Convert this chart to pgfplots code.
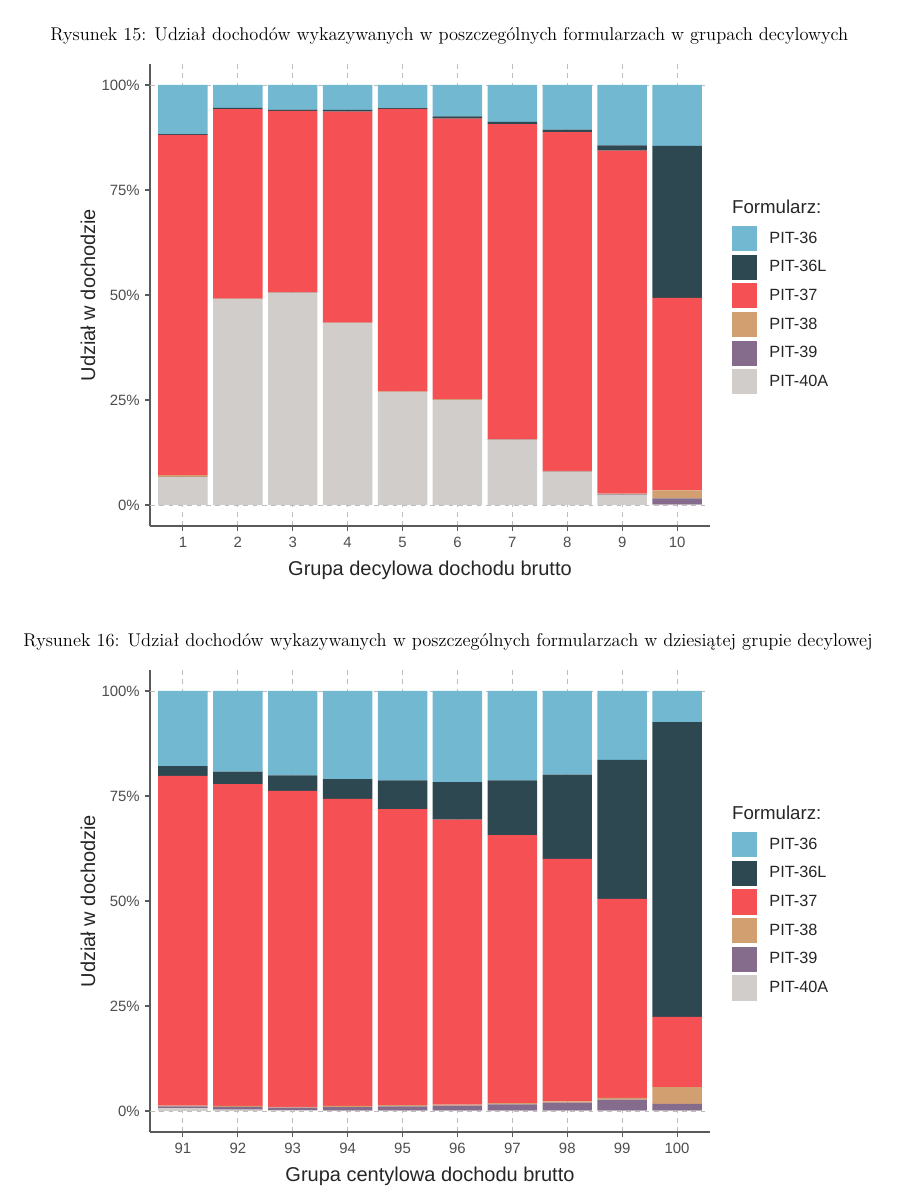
\documentclass[border=0pt]{standalone}
\usepackage{fontspec}
\newfontfamily\arial{Liberation Sans}
\usepackage{graphicx}
\usepackage{pgfplots}
\usepackage{pgfplotstable}
\pgfplotsset{compat=1.18}
\definecolor{cA}{HTML}{71B8D0}
\definecolor{cB}{HTML}{2E4852}
\definecolor{cC}{HTML}{F55155}
\definecolor{cD}{HTML}{D2A070}
\definecolor{cE}{HTML}{856B8C}
\definecolor{cF}{HTML}{D0CDCA}
\definecolor{tickgray}{HTML}{4D4D4D}
\definecolor{axgray}{HTML}{5A5A5A}
\definecolor{gridgray}{HTML}{BDBDBD}
\newlength\tw

\pgfplotstableread{
x a40 a39 a38 a37 a36L a36
1 6.6 0.1 0.4 81.0 0.2 11.7
2 49.0 0.05 0.1 45.1 0.3 5.45
3 50.5 0.05 0.1 43.2 0.3 5.85
4 43.3 0.05 0.1 50.2 0.4 5.95
5 26.9 0.05 0.1 67.25 0.2 5.5
6 25.0 0.05 0.15 66.8 0.5 7.5
7 15.5 0.05 0.15 75.0 0.5 8.8
8 7.9 0.05 0.15 80.7 0.6 10.6
9 2.4 0.1 0.2 81.7 1.2 14.4
10 0.1 1.5 1.9 45.8 36.2 14.5
}\tabA

\pgfplotstableread{
x a40 a39 a38 a37 a36L a36
1 0.6 0.5 0.2 78.5 2.3 17.9
2 0.3 0.7 0.2 76.6 3.0 19.2
3 0.2 0.6 0.2 75.2 3.7 20.1
4 0.1 0.8 0.3 73.1 4.7 21.0
5 0.1 1.0 0.3 70.5 6.8 21.3
6 0.1 1.2 0.2 67.9 8.9 21.7
7 0.1 1.5 0.3 63.8 13.0 21.3
8 0.1 1.9 0.3 57.7 20.1 19.9
9 0.1 2.6 0.4 47.4 33.1 16.4
10 0.1 1.6 4.0 16.7 70.2 7.4
}\tabB

\pgfplotsset{
  sq legend/.style={legend image code/.code={\fill[##1,draw=none] (0pt,-9.45pt) rectangle (19.1pt,9.45pt);}},
  chart/.style={
    scale only axis, width=420pt, height=346.5pt,
    xmin=0.4, xmax=10.6, ymin=-5, ymax=105,
    ybar stacked, bar width=0.9, clip=false,
    axis x line*=bottom, axis y line*=left,
    axis line style={-, draw=axgray, line width=0.8pt},
    xtick={1,...,10}, ytick={0,25,50,75,100},
    yticklabels={0\%,25\%,50\%,75\%,100\%},
    tick align=outside, major tick length=3.75pt,
    tick style={draw=axgray, line width=0.8pt},
    xmajorgrids, ymajorgrids=false,
    extra y ticks={0,100}, extra y tick labels={},
    extra y tick style={grid=major, major tick length=0pt},
    grid style={draw=gridgray, line width=0.7pt, dash pattern=on 3.5pt off 3.5pt},
    ticklabel style={font=\arial\fontsize{11.2}{13}\selectfont, text=tickgray},
    xticklabel style={anchor=north, inner sep=0pt, yshift=-4.5pt},
    yticklabel style={anchor=east, inner sep=0pt, xshift=-3.75pt},
    every axis x label/.style={at={(axis description cs:0.5,-0.0952)}, anchor=center,
      font=\arial\fontsize{15}{18}\selectfont, text=black!85},
    every axis y label/.style={at={(axis description cs:-0.1107,0.5)}, rotate=90, anchor=center,
      font=\arial\fontsize{15}{18}\selectfont, text=black!85},
    ylabel={Udział w dochodzie},
    reverse legend,
    legend cell align=left,
    legend style={at={(axis description cs:1.0388,0.650)}, anchor=north west,
      draw=none, fill=none, inner sep=0pt, row sep=2.6pt,
      font=\arial\fontsize{12.2}{14}\selectfont, text=black!85,
      nodes={inner sep=0pt},
      /tikz/every odd column/.append style={column sep=9pt}},
  }
}

\begin{document}
\settowidth\tw{\fontsize{13.5}{16}\selectfont Rysunek 15: Udział dochodów wykazywanych w poszczególnych formularzach w grupach decylowych}%
\pgfmathsetmacro\tfs{13.5*598.5/\tw}%
\begin{tikzpicture}
\path[use as bounding box] (0,0) rectangle (692.25pt,900pt);
\node[anchor=base west, inner sep=0pt] at (37.5pt,869.5pt) {\fontsize{\tfs pt}{16}\selectfont Rysunek 15: Udział dochodów wykazywanych w poszczególnych formularzach w grupach decylowych};
\node[anchor=base east, inner sep=0pt] at (654.75pt,415pt) {\fontsize{\tfs pt}{16}\selectfont Rysunek 16: Udział dochodów wykazywanych w poszczególnych formularzach w dziesiątej grupie decylowej};

\begin{axis}[chart, at={(112.5pt,505.5pt)}, anchor=south west,
  xticklabels={1,2,3,4,5,6,7,8,9,10},
  xlabel={Grupa decylowa dochodu brutto}]
\addplot[fill=cF, draw=none, sq legend] table[x=x,y=a40]{\tabA};
\addplot[fill=cE, draw=none, sq legend] table[x=x,y=a39]{\tabA};
\addplot[fill=cD, draw=none, sq legend] table[x=x,y=a38]{\tabA};
\addplot[fill=cC, draw=none, sq legend] table[x=x,y=a37]{\tabA};
\addplot[fill=cB, draw=none, sq legend] table[x=x,y=a36L]{\tabA};
\addplot[fill=cA, draw=none, sq legend] table[x=x,y=a36]{\tabA};
\legend{PIT-40A,PIT-39,PIT-38,PIT-37,PIT-36L,PIT-36}
\node[anchor=west, inner sep=0pt, font=\arial\fontsize{14}{16}\selectfont, text=black!85] at (axis description cs:1.039,0.6905) {Formularz:};
\end{axis}

\begin{axis}[chart, at={(112.5pt,51pt)}, anchor=south west,
  xticklabels={91,92,93,94,95,96,97,98,99,100},
  xlabel={Grupa centylowa dochodu brutto}]
\addplot[fill=cF, draw=none, sq legend] table[x=x,y=a40]{\tabB};
\addplot[fill=cE, draw=none, sq legend] table[x=x,y=a39]{\tabB};
\addplot[fill=cD, draw=none, sq legend] table[x=x,y=a38]{\tabB};
\addplot[fill=cC, draw=none, sq legend] table[x=x,y=a37]{\tabB};
\addplot[fill=cB, draw=none, sq legend] table[x=x,y=a36L]{\tabB};
\addplot[fill=cA, draw=none, sq legend] table[x=x,y=a36]{\tabB};
\legend{PIT-40A,PIT-39,PIT-38,PIT-37,PIT-36L,PIT-36}
\node[anchor=west, inner sep=0pt, font=\arial\fontsize{14}{16}\selectfont, text=black!85] at (axis description cs:1.039,0.6905) {Formularz:};
\end{axis}
\end{tikzpicture}
\end{document}
